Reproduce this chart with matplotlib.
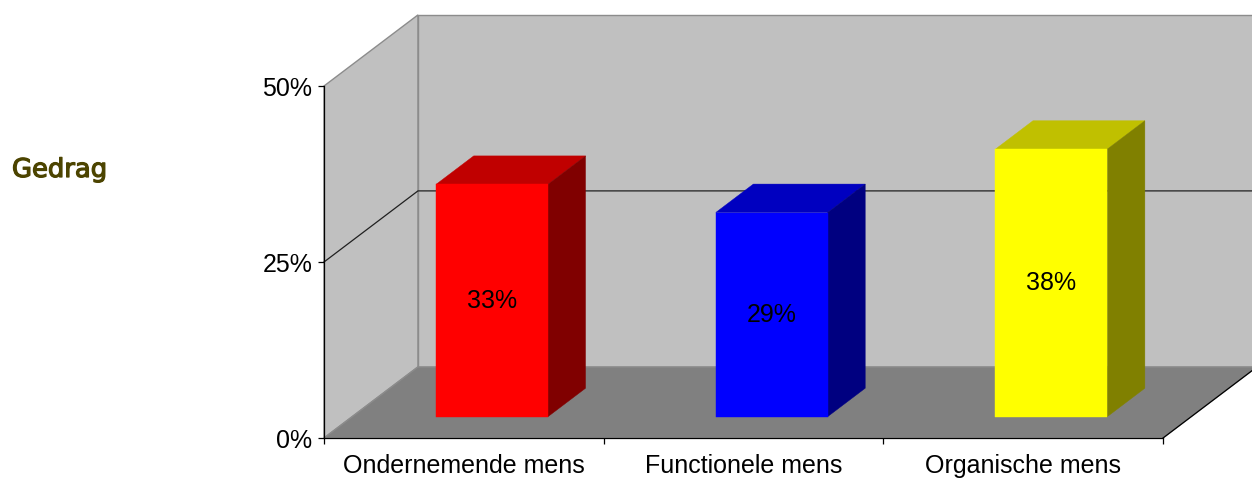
import matplotlib
matplotlib.use("Agg")
import matplotlib.pyplot as plt
import matplotlib.patheffects as pe
from matplotlib.patches import Polygon

# --- data ---
categories = ["Ondernemende mens", "Functionele mens", "Organische mens"]
values = [33, 29, 38]
value_labels = ["33%", "29%", "38%"]
front_colors = ["#FF0000", "#0000FF", "#FFFF00"]
top_colors = ["#C00000", "#0000C0", "#C0C000"]
side_colors = ["#800000", "#000080", "#808000"]
y_ticks = [0, 25, 50]
y_tick_labels = ["0%", "25%", "50%"]

# oblique depth of the plot box, in data units (x: categories, y: percent)
DEPTH_X = 0.336
DEPTH_Y = 10.1
BAR_WIDTH = 0.4
BAR_D0, BAR_D1 = 0.3, 0.7
WALL = "#C0C0C0"
FLOOR = "#808080"
EDGE = "#8C8C8C"


def shift(x, y, d):
    return (x + d * DEPTH_X, y + d * DEPTH_Y)


def face(ax, pts, color, edge=None, lw=0.0, z=1):
    ax.add_patch(Polygon(pts, closed=True, facecolor=color,
                         edgecolor=edge if edge else color,
                         linewidth=lw if edge else 0.3,
                         zorder=z, clip_on=False))


fig = plt.figure(figsize=(12.52, 4.79), dpi=100)
W, H = 1252, 479
ax = fig.add_axes([324 / W, 41 / H, (1163 - 324) / W, 352 / H])
ax.set_xlim(0, len(categories))
ax.set_ylim(0, 50)
ax.patch.set_visible(False)

n = len(categories)
ymax = y_ticks[-1]

# walls and floor
face(ax, [(0, 0), (0, ymax), shift(0, ymax, 1), shift(0, 0, 1)], WALL, EDGE, 1.0, 0)
face(ax, [shift(0, 0, 1), shift(n, 0, 1), shift(n, ymax, 1), shift(0, ymax, 1)],
     WALL, EDGE, 1.0, 0)
face(ax, [(0, 0), (n, 0), shift(n, 0, 1), shift(0, 0, 1)], FLOOR, EDGE, 1.0, 0.5)

# floor right edge
x0, y0 = shift(n, 0, 1)
ax.plot([n, x0], [0, y0], color="black", lw=0.9, zorder=0.6, clip_on=False)

# gridlines (skip floor and top edge)
for t in y_ticks[1:-1]:
    xa, ya = shift(0, t, 1)
    xb, yb = shift(n, t, 1)
    ax.plot([0, xa, xb], [t, ya, yb], color="#202020", lw=0.9, zorder=0.7,
            clip_on=False)

# bars
for i, v in enumerate(values):
    left = i + 0.5 - BAR_WIDTH / 2
    right = left + BAR_WIDTH
    fl, fb = shift(left, 0, BAR_D0)
    fr, _ = shift(right, 0, BAR_D0)
    ft = fb + v
    bl, bb = shift(left, 0, BAR_D1)
    br, _ = shift(right, 0, BAR_D1)
    bt = bb + v
    face(ax, [(fl, ft), (fr, ft), (br, bt), (bl, bt)], top_colors[i], z=2)
    face(ax, [(fr, fb), (br, bb), (br, bt), (fr, ft)], side_colors[i], z=2)
    face(ax, [(fl, fb), (fr, fb), (fr, ft), (fl, ft)], front_colors[i], z=3)
    ax.text((fl + fr) / 2, fb + v / 2, value_labels[i], ha="center", va="center",
            fontsize=18, family="Liberation Sans", color="black", zorder=4)

# axes
for s in ["top", "right"]:
    ax.spines[s].set_visible(False)
for s in ["left", "bottom"]:
    ax.spines[s].set_color("black")
    ax.spines[s].set_linewidth(0.9)
    ax.spines[s].set_zorder(5)

ax.set_yticks(y_ticks)
ax.set_yticklabels(y_tick_labels, family="Liberation Sans", fontsize=18)
ax.tick_params(axis="y", direction="out", length=4.5, width=0.9, pad=4)

ax.set_xticks(range(n + 1))
ax.set_xticklabels([])
ax.set_xticks([i + 0.5 for i in range(n)], minor=True)
ax.set_xticklabels(categories, minor=True, family="Liberation Sans", fontsize=18)
ax.tick_params(axis="x", which="major", direction="out", length=4.5, width=0.9)
ax.tick_params(axis="x", which="minor", length=0, pad=11.5)

fig.text(12 / W, 1 - 177 / H, "Gedrag", fontsize=18.6, family="DejaVu Sans",
         color="#4C4400", ha="left", va="baseline",
         path_effects=[pe.withStroke(linewidth=0.9, foreground="#4C4400")])

fig.savefig("out.png", dpi=100)
